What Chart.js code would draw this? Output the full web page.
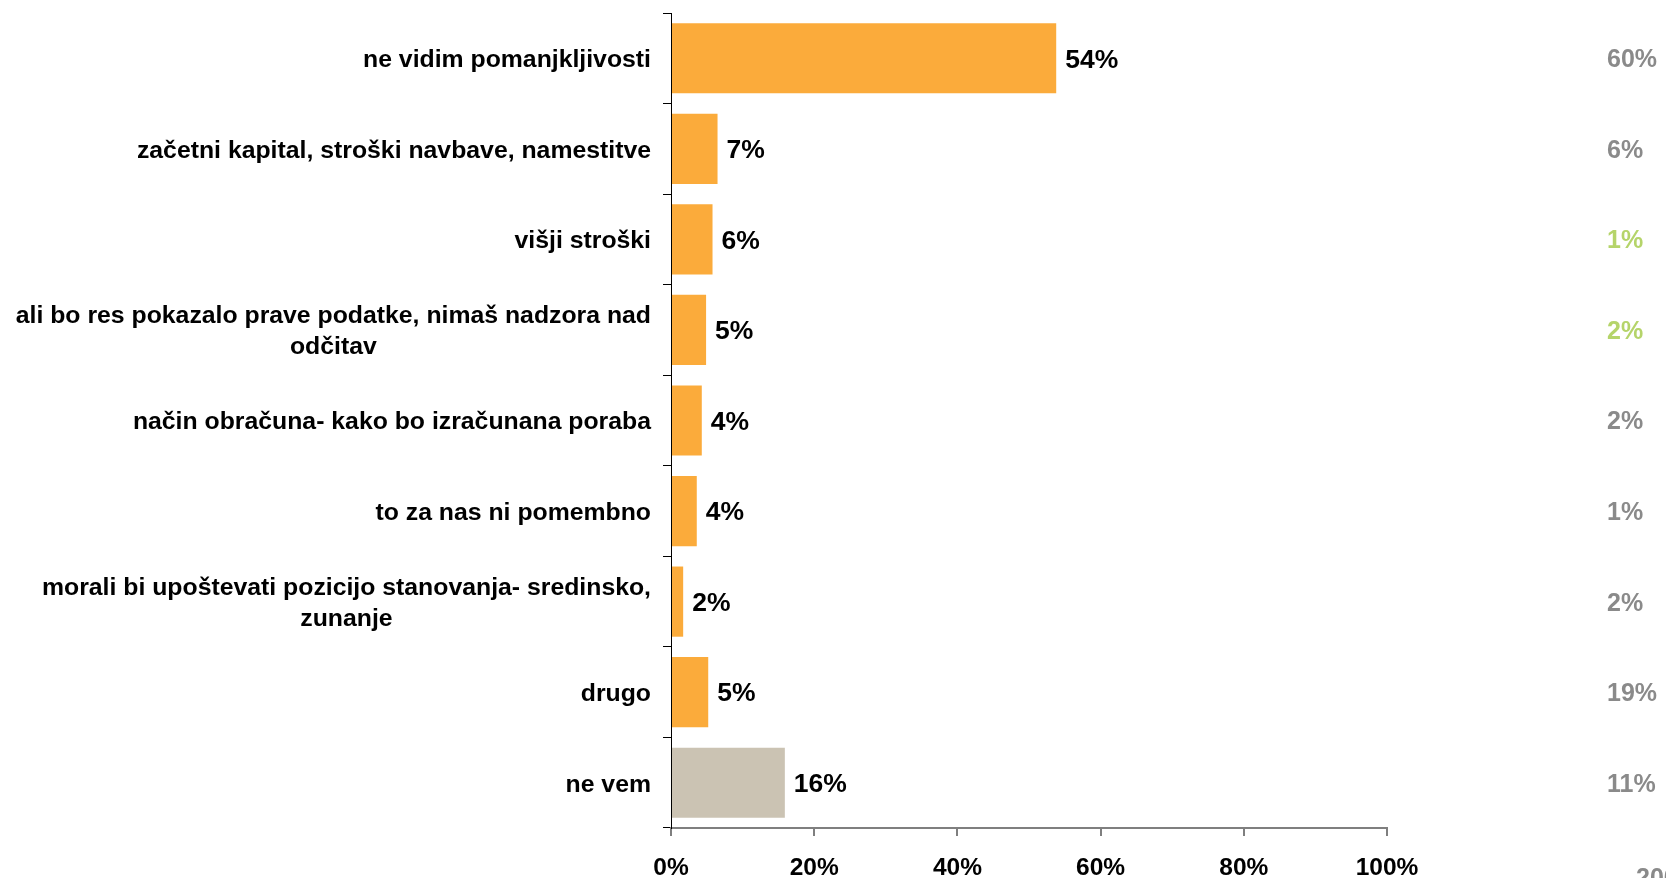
<!DOCTYPE html>
<html>
<head>
<meta charset="utf-8">
<script src="https://cdn.jsdelivr.net/npm/chart.js@4"></script>
<style>
  html, body { margin: 0; padding: 0; background: #fff; }
  #wrap { width: 1666px; height: 878px; }
</style>
</head>
<body>
<div id="wrap"><canvas id="graf" width="1666" height="878"></canvas></div>
<script>
// kategorije (vrstice od zgoraj navzdol)
const kategorije = [
  ["ne vidim pomanjkljivosti"],
  ["začetni kapital, stroški navbave, namestitve"],
  ["višji stroški"],
  ["ali bo res pokazalo prave podatke, nimaš nadzora nad", "odčitav"],
  ["način obračuna- kako bo izračunana poraba"],
  ["to za nas ni pomembno"],
  ["morali bi upoštevati pozicijo stanovanja- sredinsko,", "zunanje"],
  ["drugo"],
  ["ne vem"]
];
const vrednosti = [53.8, 6.5, 5.8, 4.9, 4.3, 3.6, 1.7, 5.2, 15.9];
const prejsnje = [60, 6, 1, 2, 2, 1, 2, 19, 11];
const prejsnjeBarve = ["#8a8a8a", "#8a8a8a", "#b5d46a", "#b5d46a", "#8a8a8a", "#8a8a8a", "#8a8a8a", "#8a8a8a", "#8a8a8a"];
const xTicks = [0, 20, 40, 60, 80, 100];

const FONT = "'Liberation Sans', Arial, sans-serif";
const barveStolpcev = kategorije.map((k, i) => i === kategorije.length - 1 ? "#cbc3b3" : "#fbab3b");

// oznake kategorij, vrednosti ob stolpcih in desni stolpec
const oznake = {
  id: "oznake",
  afterDraw(chart) {
    const ctx = chart.ctx;
    const y = chart.scales.y;
    const meta = chart.getDatasetMeta(0);
    ctx.save();

    // kategorije
    ctx.font = "bold 24.8px " + FONT;
    ctx.fillStyle = "#000";
    ctx.textBaseline = "middle";
    kategorije.forEach((vrstice, i) => {
      const cy = y.getPixelForValue(i) + 2;
      const desno = 651;
      const lh = 31;
      if (vrstice.length === 1) {
        ctx.textAlign = "right";
        ctx.fillText(vrstice[0], desno, cy);
      } else {
        const maxW = Math.max(...vrstice.map(t => ctx.measureText(t).width));
        const cx = desno - maxW / 2;
        ctx.textAlign = "center";
        vrstice.forEach((t, j) => {
          ctx.fillText(t, cx, cy + (j - (vrstice.length - 1) / 2) * lh);
        });
      }
    });

    // vrednosti
    ctx.font = "bold 26.5px " + FONT;
    ctx.textAlign = "left";
    meta.data.forEach((bar, i) => {
      ctx.fillText(Math.round(vrednosti[i]) + "%", bar.x + 9, bar.y + 2);
    });

    // desni stolpec
    ctx.font = "bold 25px " + FONT;
    prejsnje.forEach((v, i) => {
      ctx.fillStyle = prejsnjeBarve[i];
      ctx.fillText(v + "%", 1607, y.getPixelForValue(i) + 2);
    });

    // odrezan napis spodaj desno
    ctx.fillStyle = "#8a8a8a";
    ctx.textBaseline = "top";
    ctx.fillText("2008", 1636, 867);
    ctx.restore();
  }
};

new Chart(document.getElementById("graf"), {
  type: "bar",
  data: {
    labels: kategorije.map(k => k.join(" ")),
    datasets: [{
      data: vrednosti,
      backgroundColor: barveStolpcev,
      borderWidth: 0,
      barPercentage: 0.775,
      categoryPercentage: 1
    }]
  },
  options: {
    indexAxis: "y",
    responsive: false,
    animation: false,
    devicePixelRatio: 1,
    layout: { padding: { top: 13, right: 279, left: 0, bottom: 0 } },
    plugins: { legend: { display: false }, tooltip: { enabled: false } },
    scales: {
      x: {
        min: 0,
        max: 100,
        afterBuildTicks: s => { s.ticks = xTicks.map(v => ({ value: v })); },
        afterFit: s => { s.height = 50; },
        border: { color: "#7f7f7f", width: 2 },
        grid: { drawOnChartArea: false, drawTicks: true, tickLength: 8, color: "#7f7f7f", lineWidth: 2 },
        ticks: {
          padding: 18,
          color: "#000",
          font: { family: FONT, size: 24.5, weight: "bold" },
          callback: v => v + "%"
        }
      },
      y: {
        afterFit: s => { s.width = 671; },
        border: { color: "#000", width: 1 },
        grid: { offset: true, drawOnChartArea: false, drawTicks: true, tickLength: 8, color: "#000", lineWidth: 1 },
        ticks: { display: false }
      }
    }
  },
  plugins: [oznake]
});
</script>
</body>
</html>
